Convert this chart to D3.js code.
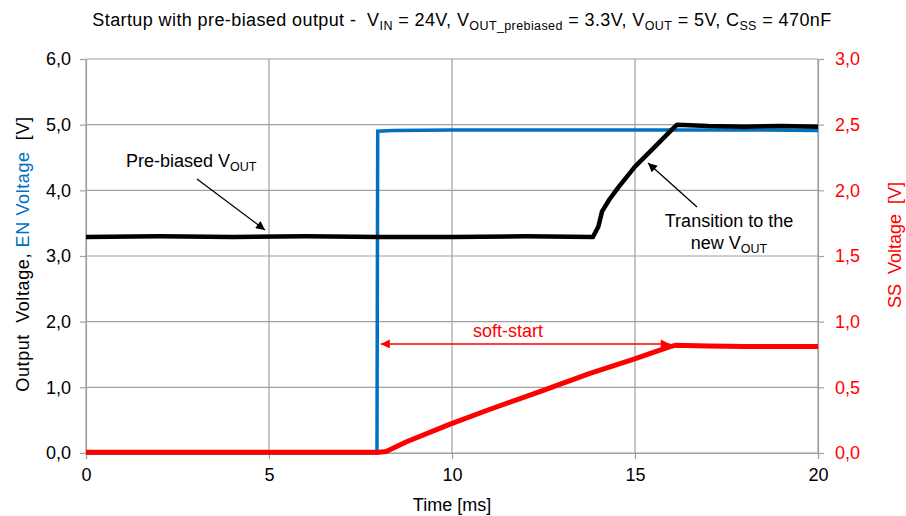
<!DOCTYPE html>
<html><head><meta charset="utf-8">
<script src="https://cdn.jsdelivr.net/npm/d3@7"></script>
<style>
body{margin:0;background:#fff;}
svg{font-family:"Liberation Sans",Arial,sans-serif;}
text{white-space:pre;}
</style></head>
<body><svg id="c" width="906" height="516"></svg>
<script>
// ---- data ----
const xTicks = [0, 5, 10, 15, 20];
const yLeftTicks = [0, 1, 2, 3, 4, 5, 6];
const yRightTicks = [0, 0.5, 1.0, 1.5, 2.0, 2.5, 3.0];

const enTime = [0, 7.95, 7.97, 8.4, 10, 12, 14, 16, 18, 20];
const enVolt = [0, 0, 4.90, 4.91, 4.92, 4.92, 4.92, 4.92, 4.92, 4.91];

const voutTime = [0, 2, 4, 6, 8, 10, 12, 13.85, 14.0, 14.1, 14.3, 14.55, 15.0, 15.5, 16.0, 16.15, 17, 18, 19, 20];
const voutVolt = [3.29, 3.30, 3.29, 3.30, 3.29, 3.29, 3.30, 3.29, 3.45, 3.68, 3.86, 4.05, 4.36, 4.64, 4.92, 5.00, 4.98, 4.97, 4.98, 4.97];

const ssTime = [0, 2, 4, 6, 8.0, 8.2, 8.76, 9.95, 11.04, 12.4, 13.77, 14.95, 15.96, 16.1, 17, 18, 19, 20];
const ssVolt = [0.005, 0.006, 0.005, 0.006, 0.005, 0.012, 0.086, 0.22, 0.333, 0.467, 0.607, 0.713, 0.81, 0.82, 0.815, 0.81, 0.81, 0.81];

const softStart = {t0: 8.0, t1: 15.95, v: 0.83};

// ---- layout ----
const svg = d3.select("#c");
const L = 86, R = 818, T = 59, B = 453;
const FS = 18, SUB = 12.5;
const x = d3.scaleLinear().domain([0, 20]).range([L, R]);
const yL = d3.scaleLinear().domain([0, 6]).range([B, T]);
const yR = d3.scaleLinear().domain([0, 3]).range([B, T]);
const grid = "#a0a0a0";
const blue = "#0070c0", red = "#ff0000";
const fmt = d3.format(".1f");
const comma = v => fmt(v).replace(".", ",");

// grid
svg.append("g").selectAll("line").data(yLeftTicks).join("line")
  .attr("x1", L).attr("x2", R).attr("y1", d => yL(d)).attr("y2", d => yL(d))
  .attr("stroke", grid).attr("stroke-width", 1.2);
svg.append("g").selectAll("line").data(xTicks).join("line")
  .attr("x1", d => x(d)).attr("x2", d => x(d)).attr("y1", T).attr("y2", B)
  .attr("stroke", grid).attr("stroke-width", 1.2);

// axes
const axL = svg.append("g").attr("transform", `translate(${L},0)`)
  .call(d3.axisLeft(yL).tickValues(yLeftTicks).tickFormat(comma).tickSize(6).tickPadding(9));
const axR = svg.append("g").attr("transform", `translate(${R},0)`)
  .call(d3.axisRight(yR).tickValues(yRightTicks).tickFormat(comma).tickSize(6).tickPadding(11));
const axB = svg.append("g").attr("transform", `translate(0,${B})`)
  .call(d3.axisBottom(x).tickValues(xTicks).tickFormat(d3.format("d")).tickSize(6).tickPadding(9));
[axL, axR, axB].forEach(a => {
  a.selectAll("path.domain").attr("stroke", grid).attr("stroke-width", 1.2);
  a.selectAll(".tick line").attr("stroke", grid).attr("stroke-width", 1.2);
  a.selectAll("text").attr("font-size", FS).attr("font-family", "Liberation Sans, Arial, sans-serif");
});
axL.selectAll("text").attr("fill", "#000");
axB.selectAll("text").attr("fill", "#000");
axR.selectAll("text").attr("fill", red);

// traces
const lineL = d3.line().x(d => x(d[0])).y(d => yL(d[1]));
const lineR = d3.line().x(d => x(d[0])).y(d => yR(d[1]));
svg.append("path").datum(d3.zip(enTime, enVolt)).attr("d", lineL)
  .attr("fill", "none").attr("stroke", blue).attr("stroke-width", 3.5);
svg.append("path").datum(d3.zip(voutTime, voutVolt)).attr("d", lineL)
  .attr("fill", "none").attr("stroke", "#000").attr("stroke-width", 4.5).attr("stroke-linejoin", "round");
svg.append("path").datum(d3.zip(ssTime, ssVolt)).attr("d", lineR)
  .attr("fill", "none").attr("stroke", red).attr("stroke-width", 5).attr("stroke-linejoin", "round");

// arrowhead markers
const defs = svg.append("defs");
function marker(id, color) {
  defs.append("marker").attr("id", id).attr("viewBox", "0 0 10 10")
    .attr("refX", 10).attr("refY", 5).attr("markerWidth", 11).attr("markerHeight", 9)
    .attr("markerUnits", "userSpaceOnUse").attr("orient", "auto-start-reverse")
    .append("path").attr("d", "M0,0 L10,5 L0,10 Z").attr("fill", color);
}
marker("ab", "#000");
marker("ar", red);

// soft-start arrow
svg.append("line").attr("x1", x(softStart.t0) + 2).attr("x2", x(softStart.t1))
  .attr("y1", yR(softStart.v)).attr("y2", yR(softStart.v))
  .attr("stroke", red).attr("stroke-width", 1.5)
  .attr("marker-start", "url(#ar)").attr("marker-end", "url(#ar)");
svg.append("text").attr("x", 508).attr("y", 337).attr("text-anchor", "middle")
  .attr("font-size", FS).attr("fill", red).text("soft-start");

// pre-biased annotation
const t1 = svg.append("text").attr("x", 126).attr("y", 167).attr("font-size", FS).attr("fill", "#000");
t1.append("tspan").text("Pre-biased V");
t1.append("tspan").attr("dy", 4).attr("font-size", SUB).text("OUT");
svg.append("line").attr("x1", 197).attr("y1", 179).attr("x2", 265).attr("y2", 230)
  .attr("stroke", "#000").attr("stroke-width", 1.3).attr("marker-end", "url(#ab)");

// transition annotation
svg.append("text").attr("x", 729).attr("y", 227).attr("text-anchor", "middle")
  .attr("font-size", FS).text("Transition to the");
const t2 = svg.append("text").attr("x", 729).attr("y", 249).attr("text-anchor", "middle").attr("font-size", FS);
t2.append("tspan").text("new V");
t2.append("tspan").attr("dy", 4).attr("font-size", SUB).text("OUT");
svg.append("line").attr("x1", 697).attr("y1", 207).attr("x2", 648).attr("y2", 163)
  .attr("stroke", "#000").attr("stroke-width", 1.3).attr("marker-end", "url(#ab)");

// title
const title = svg.append("text").attr("x", 462).attr("y", 26).attr("text-anchor", "middle")
  .attr("font-size", FS).attr("letter-spacing", 0.4);
title.append("tspan").text("Startup with pre-biased output -  V");
title.append("tspan").attr("dy", 4).attr("font-size", SUB).text("IN");
title.append("tspan").attr("dy", -4).text(" = 24V, V");
title.append("tspan").attr("dy", 4).attr("font-size", SUB).text("OUT_prebiased");
title.append("tspan").attr("dy", -4).text(" = 3.3V, V");
title.append("tspan").attr("dy", 4).attr("font-size", SUB).text("OUT");
title.append("tspan").attr("dy", -4).text(" = 5V, C");
title.append("tspan").attr("dy", 4).attr("font-size", SUB).text("SS");
title.append("tspan").attr("dy", -4).text(" = 470nF");

// axis titles
svg.append("text").attr("x", 452).attr("y", 511).attr("text-anchor", "middle")
  .attr("font-size", FS).text("Time [ms]");
const yt = svg.append("text").attr("transform", "translate(29,254) rotate(-90)")
  .attr("text-anchor", "middle").attr("font-size", FS).attr("letter-spacing", 0.6);
yt.append("tspan").attr("fill", "#000").text("Output  Voltage, ");
yt.append("tspan").attr("fill", blue).text("EN Voltage");
yt.append("tspan").attr("fill", "#000").text("  [V]");
svg.append("text").attr("transform", "translate(901,245) rotate(-90)")
  .attr("text-anchor", "middle").attr("font-size", FS).attr("fill", red).text("SS  Voltage  [V]");
</script></body></html>
